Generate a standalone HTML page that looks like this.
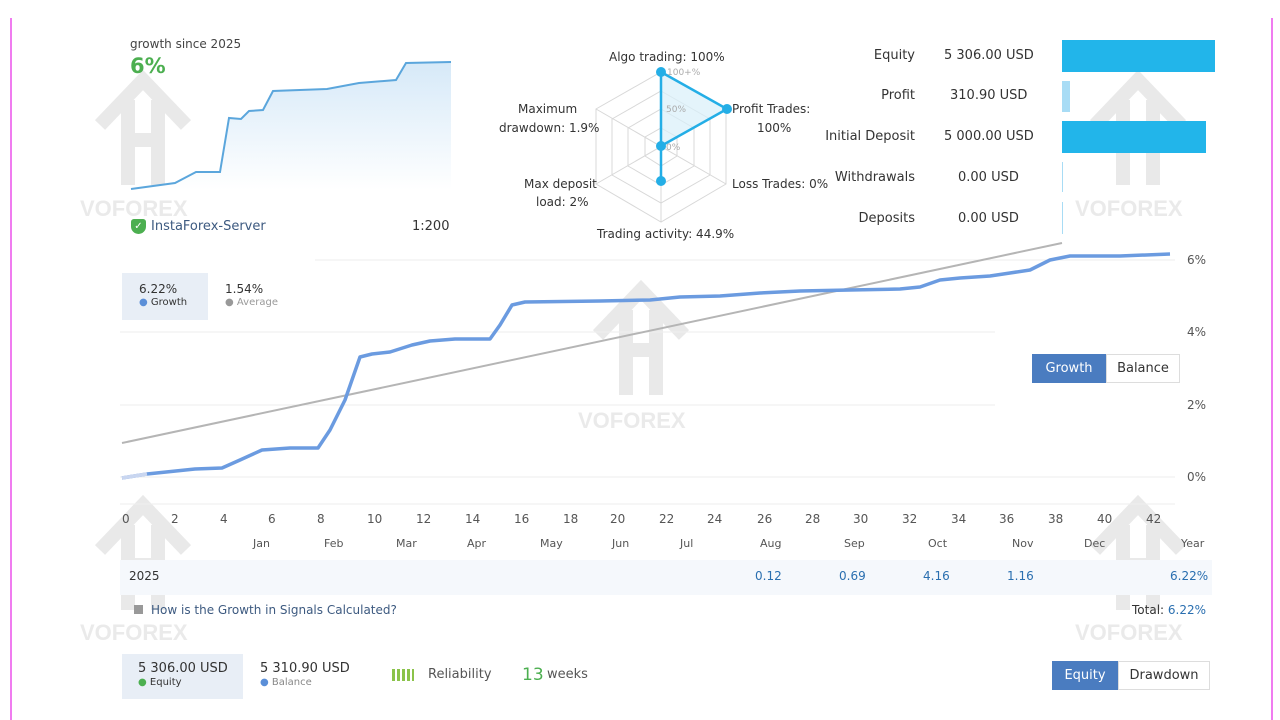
<!DOCTYPE html>
<html><head><meta charset="utf-8"><style>
*{margin:0;padding:0;box-sizing:border-box}
body{width:1280px;height:720px;background:#fff;position:relative;overflow:hidden;font-family:"DejaVu Sans","Liberation Sans",sans-serif;color:#333}
.a{position:absolute;white-space:nowrap}
.f12{font-size:12px}.f13{font-size:13px}
</style></head><body>
<div class="a" style="left:10px;top:18px;width:2px;height:702px;background:#f07cf0"></div>
<div class="a" style="left:1271px;top:18px;width:2px;height:702px;background:#f07cf0"></div>

<svg class="a" style="left:0;top:0" width="1280" height="720">
<defs><linearGradient id="g" x1="0" y1="0" x2="0" y2="1"><stop offset="0" stop-color="#d6e9f8"/><stop offset="1" stop-color="#fff"/></linearGradient></defs>
<!-- watermarks -->
<g fill="#e6e6e6" opacity="0.8">
<text x="80" y="216" font-size="22" font-weight="bold" font-family="Liberation Sans">VOFOREX</text>
<text x="578" y="428" font-size="22" font-weight="bold" font-family="Liberation Sans">VOFOREX</text>
<text x="1075" y="216" font-size="22" font-weight="bold" font-family="Liberation Sans">VOFOREX</text>
<text x="80" y="640" font-size="22" font-weight="bold" font-family="Liberation Sans">VOFOREX</text>
<text x="1075" y="640" font-size="22" font-weight="bold" font-family="Liberation Sans">VOFOREX</text>
</g>
<g fill="none" stroke="#e4e4e4" stroke-width="14" opacity="0.8">
<path d="M100,125 L143,80 L186,125 M128,100 V185 M158,100 V185 M128,140 H158"/>
<path d="M598,335 L641,290 L684,335 M626,310 V395 M656,310 V395 M626,350 H656"/>
<path d="M1095,125 L1138,80 L1181,125 M1123,100 V185 M1153,100 V185 M1123,140 H1153"/>
<path d="M100,550 L143,505 L186,550 M128,525 V610 M158,525 V610 M128,565 H158"/>
<path d="M1095,550 L1138,505 L1181,550 M1123,525 V610 M1153,525 V610 M1123,565 H1153"/>
</g>
<!-- mini chart -->
<path d="M131,189 L175,183 L196,172 L220,172 L229,118 L241,119 L249,111 L263,110 L273,91 L327,89 L359,83 L396,80 L406,63 L451,62 L451,190 L131,190Z" fill="url(#g)"/>
<path d="M131,189 L175,183 L196,172 L220,172 L229,118 L241,119 L249,111 L263,110 L273,91 L327,89 L359,83 L396,80 L406,63 L451,62" fill="none" stroke="#5ba6dc" stroke-width="2"/>
<!-- radar -->
<g fill="none" stroke="#d8d8d8" stroke-width="1">
<polygon points="661,72 726,109 726,184 661,222 596,184 596,109"/>
<polygon points="661,91 710,119 710,175 661,203 612,175 612,119"/>
<polygon points="661,109 694,128 694,166 661,185 628,166 628,128"/>
<polygon points="661,128 677,137 677,156 661,166 645,156 645,137"/>
<path d="M661,72 V222 M596,109 L726,184 M726,109 L596,184"/>
</g>
<polygon points="661,72 727,109 661,146 661,181 661,146" fill="#d9effa" fill-opacity="0.7" stroke="#24aee6" stroke-width="2.5"/>
<g fill="#24aee6"><circle cx="661" cy="72" r="5"/><circle cx="727" cy="109" r="5"/><circle cx="661" cy="146" r="5"/><circle cx="661" cy="181" r="5"/></g>
<g font-size="9" fill="#aaa" font-family="DejaVu Sans"><text x="667" y="75">100+%</text><text x="666" y="112">50%</text><text x="666" y="150">0%</text></g>
<!-- bars -->
<rect x="1062" y="40" width="153" height="32" fill="#22b5ea"/>
<rect x="1062" y="81" width="8" height="31" fill="#a8dcf5"/>
<rect x="1062" y="121" width="144" height="32" fill="#22b5ea"/>
<rect x="1062" y="162" width="1" height="30" fill="#a8dcf5"/>
<rect x="1062" y="202" width="1" height="32" fill="#a8dcf5"/>
<!-- main chart grid -->
<g stroke="#eee" stroke-width="1">
<path d="M315,260 H1175 M120,332 H995 M120,405 H995 M120,477 H1175 M120,504 H1175"/>
</g>
<line x1="122" y1="443" x2="1062" y2="243" stroke="#b5b5b5" stroke-width="2"/>
<path d="M122,478 L147,474 L195,469 L222,468 L240,460 L262,450 L290,448 L318,448 L330,430 L345,400 L360,357 L372,354 L390,352 L412,345 L430,341 L455,339 L490,339 L500,325 L512,305 L525,302 L600,301 L650,300 L680,297 L720,296 L760,293 L800,291 L850,290 L900,289 L920,287 L940,280 L960,278 L990,276 L1010,273 L1030,270 L1050,260 L1070,256 L1120,256 L1170,254" fill="none" stroke="#6b9be0" stroke-width="3.5" stroke-linejoin="round"/>
<path d="M122,478 L147,474" stroke="#c9d6f0" stroke-width="3.5"/>
</svg>

<div class="a f12" style="left:130px;top:37px;color:#444">growth since 2025</div>
<div class="a" style="left:130px;top:54px;font-size:21px;font-weight:bold;color:#4caf50">6%</div>
<div class="a" style="left:131px;top:219px;width:15px;height:15px;background:#4caf50;border-radius:3px 3px 8px 8px;color:#fff;font-size:10px;text-align:center;line-height:15px">✓</div>
<div class="a f13" style="left:151px;top:219px;color:#3d5a80">InstaForex-Server</div>
<div class="a f13" style="left:412px;top:219px;color:#333">1:200</div>

<div class="a f12" style="left:609px;top:50px">Algo trading: 100%</div>
<div class="a f12" style="left:732px;top:102px">Profit Trades:</div>
<div class="a f12" style="left:757px;top:121px">100%</div>
<div class="a f12" style="left:518px;top:102px">Maximum</div>
<div class="a f12" style="left:499px;top:121px">drawdown: 1.9%</div>
<div class="a f12" style="left:524px;top:177px">Max deposit</div>
<div class="a f12" style="left:536px;top:195px">load: 2%</div>
<div class="a f12" style="left:732px;top:177px">Loss Trades: 0%</div>
<div class="a f12" style="left:597px;top:227px">Trading activity: 44.9%</div>

<div class="a f13" style="right:365px;top:48px">Equity</div>
<div class="a f13" style="left:944px;top:48px">5 306.00 USD</div>
<div class="a f13" style="right:365px;top:88px">Profit</div>
<div class="a f13" style="left:950px;top:88px">310.90 USD</div>
<div class="a f13" style="right:365px;top:129px">Initial Deposit</div>
<div class="a f13" style="left:944px;top:129px">5 000.00 USD</div>
<div class="a f13" style="right:365px;top:170px">Withdrawals</div>
<div class="a f13" style="left:958px;top:170px">0.00 USD</div>
<div class="a f13" style="right:365px;top:211px">Deposits</div>
<div class="a f13" style="left:958px;top:211px">0.00 USD</div>

<div class="a" style="left:122px;top:273px;width:86px;height:47px;background:#e8eef6"></div>
<div class="a f12" style="left:139px;top:282px">6.22%</div>
<div class="a" style="left:139px;top:297px;font-size:10px"><span style="color:#5b8fd8">●</span> Growth</div>
<div class="a f12" style="left:225px;top:282px">1.54%</div>
<div class="a" style="left:225px;top:297px;font-size:10px;color:#999"><span>●</span> Average</div>

<div class="a f12" style="left:1187px;top:253px;color:#555">6%</div>
<div class="a f12" style="left:1187px;top:325px;color:#555">4%</div>
<div class="a f12" style="left:1187px;top:398px;color:#555">2%</div>
<div class="a f12" style="left:1187px;top:470px;color:#555">0%</div>

<div class="a" style="left:1032px;top:354px;width:74px;height:29px;background:#4a7cc0;color:#fff;font-size:13px;text-align:center;line-height:29px">Growth</div>
<div class="a" style="left:1106px;top:354px;width:74px;height:29px;border:1px solid #ddd;font-size:13px;text-align:center;line-height:27px">Balance</div>

<div class="a f12" style="left:0;top:512px;width:1280px;color:#555">
<span class="a" style="left:122px">0</span><span class="a" style="left:171px">2</span><span class="a" style="left:220px">4</span><span class="a" style="left:268px">6</span><span class="a" style="left:317px">8</span><span class="a" style="left:367px">10</span><span class="a" style="left:416px">12</span><span class="a" style="left:465px">14</span><span class="a" style="left:514px">16</span><span class="a" style="left:563px">18</span><span class="a" style="left:610px">20</span><span class="a" style="left:659px">22</span><span class="a" style="left:707px">24</span><span class="a" style="left:757px">26</span><span class="a" style="left:805px">28</span><span class="a" style="left:853px">30</span><span class="a" style="left:902px">32</span><span class="a" style="left:951px">34</span><span class="a" style="left:999px">36</span><span class="a" style="left:1048px">38</span><span class="a" style="left:1097px">40</span><span class="a" style="left:1146px">42</span>
</div>
<div class="a" style="left:0;top:537px;width:1280px;font-size:11px;color:#555">
<span class="a" style="left:253px">Jan</span><span class="a" style="left:324px">Feb</span><span class="a" style="left:396px">Mar</span><span class="a" style="left:467px">Apr</span><span class="a" style="left:540px">May</span><span class="a" style="left:612px">Jun</span><span class="a" style="left:680px">Jul</span><span class="a" style="left:760px">Aug</span><span class="a" style="left:844px">Sep</span><span class="a" style="left:928px">Oct</span><span class="a" style="left:1012px">Nov</span><span class="a" style="left:1084px">Dec</span><span class="a" style="left:1181px">Year</span>
</div>
<div class="a" style="left:120px;top:560px;width:1092px;height:35px;background:#f5f8fc"></div>
<div class="a f12" style="left:129px;top:569px">2025</div>
<div class="a f12" style="left:0;top:569px;width:1280px;color:#2a6fb0">
<span class="a" style="left:755px">0.12</span><span class="a" style="left:839px">0.69</span><span class="a" style="left:923px">4.16</span><span class="a" style="left:1007px">1.16</span><span class="a" style="left:1170px">6.22%</span>
</div>
<div class="a" style="left:134px;top:605px;width:9px;height:9px;background:#999"></div>
<div class="a f12" style="left:151px;top:603px;color:#3d5a80">How is the Growth in Signals Calculated?</div>
<div class="a f12" style="left:1132px;top:603px">Total: <span style="color:#2a6fb0">6.22%</span></div>

<div class="a" style="left:122px;top:654px;width:121px;height:45px;background:#e8eef6"></div>
<div class="a f13" style="left:138px;top:661px">5 306.00 USD</div>
<div class="a" style="left:138px;top:677px;font-size:10px"><span style="color:#4caf50">●</span> Equity</div>
<div class="a f13" style="left:260px;top:661px">5 310.90 USD</div>
<div class="a" style="left:260px;top:677px;font-size:10px;color:#888"><span style="color:#5b8fd8">●</span> Balance</div>
<div class="a" style="left:392px;top:669px;width:22px;height:12px;background:repeating-linear-gradient(90deg,#8bc34a 0 3px,transparent 3px 5px)"></div>
<div class="a f13" style="left:428px;top:667px;color:#555">Reliability</div>
<div class="a" style="left:522px;top:665px;font-size:17px;color:#4caf50">13</div>
<div class="a f13" style="left:547px;top:667px;color:#555">weeks</div>

<div class="a" style="left:1052px;top:661px;width:66px;height:29px;background:#4a7cc0;color:#fff;font-size:13px;text-align:center;line-height:29px">Equity</div>
<div class="a" style="left:1118px;top:661px;width:92px;height:29px;border:1px solid #ddd;font-size:13px;text-align:center;line-height:27px">Drawdown</div>
</body></html>
